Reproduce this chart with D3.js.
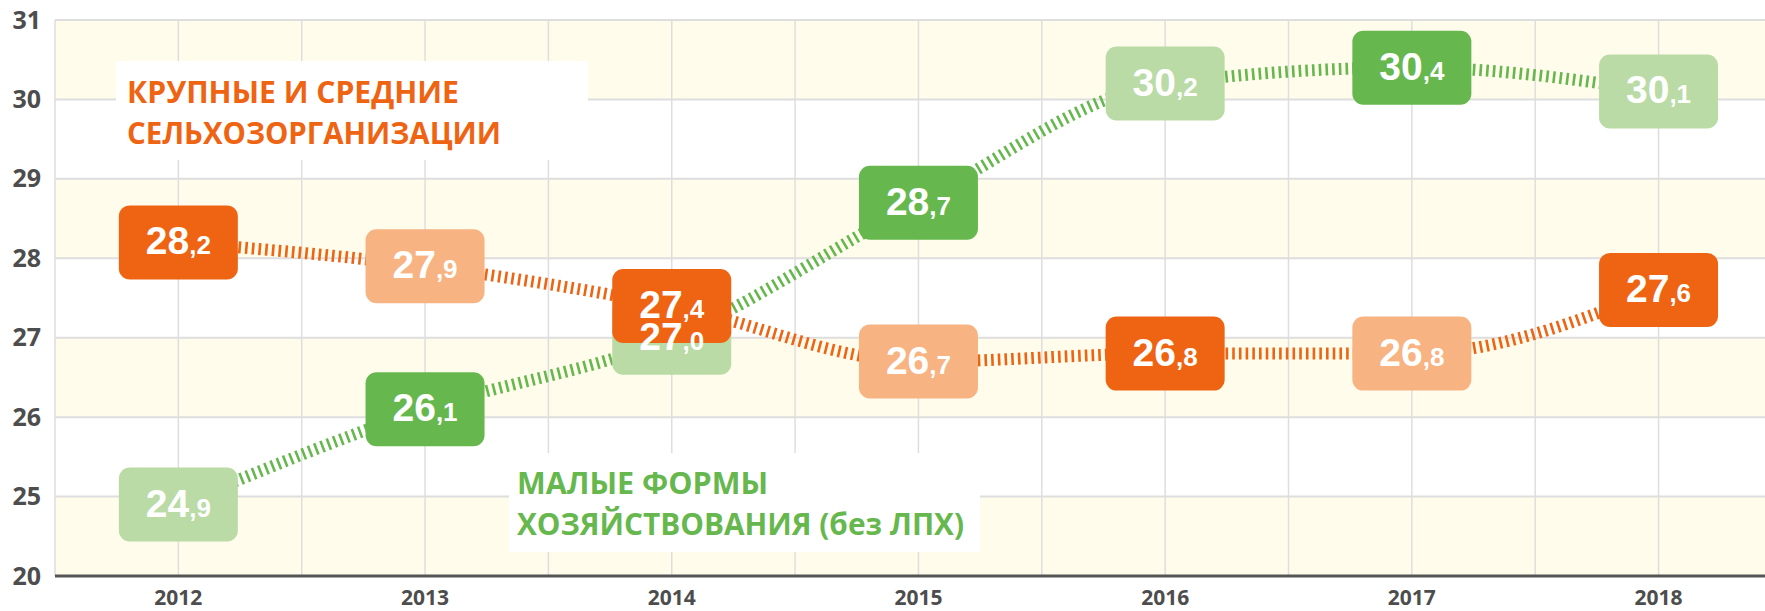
<!DOCTYPE html>
<html>
<head>
<meta charset="utf-8">
<script src="https://cdnjs.cloudflare.com/ajax/libs/d3/7.8.5/d3.min.js"></script>
<style>
  html, body { margin: 0; padding: 0; background: #fff; }
  svg { display: block; }
</style>
</head>
<body>
<svg id="chart" width="1765" height="611"></svg>
<script>
  var years = ['2012', '2013', '2014', '2015', '2016', '2017', '2018'];

  // крупные и средние сельхозорганизации
  var largeOrgs = [28.2, 27.9, 27.4, 26.7, 26.8, 26.8, 27.6];

  // малые формы хозяйствования (без ЛПХ)
  var smallForms = [24.9, 26.1, 27.0, 28.7, 30.2, 30.4, 30.1];

  // axis is broken below 25: the bottom step is labelled 20
  var yTicks = [24, 25, 26, 27, 28, 29, 30, 31];
  var yTickLabels = ['20', '25', '26', '27', '28', '29', '30', '31'];

  var orangeLabel = ['КРУПНЫЕ И СРЕДНИЕ', 'СЕЛЬХОЗОРГАНИЗАЦИИ'];
  var greenLabel = ['МАЛЫЕ ФОРМЫ', 'ХОЗЯЙСТВОВАНИЯ (без ЛПХ)'];

  var colors = {
    orangeDark: '#ee6412',
    orangeLight: '#f8b382',
    greenDark: '#66b84e',
    greenLight: '#badba6',
    band: '#fffcec',
    grid: '#dedede',
    axis: '#555555',
    tick: '#4d4d4d'
  };

  var svg = d3.select('#chart');
  var plotLeft = 55, plotTop = 20, plotBottom = 576, step = 246.7;

  var x = d3.scaleBand().domain(years).range([plotLeft, plotLeft + step * years.length]).padding(0);
  var y = d3.scaleLinear().domain([24, 31]).range([plotBottom, plotTop]);
  var cx = function(d) { return x(d) + x.bandwidth() / 2; };

  // alternating background bands, top band is yellow
  var bands = [];
  for (var i = 0; i < yTicks.length - 1; i++) {
    bands.push({ lo: yTicks[i], hi: yTicks[i + 1], idx: yTicks.length - 2 - i });
  }
  svg.append('g').selectAll('rect').data(bands).enter().append('rect')
    .attr('x', plotLeft).attr('width', 1765 - plotLeft)
    .attr('y', function(d) { return y(d.hi); })
    .attr('height', function(d) { return y(d.lo) - y(d.hi); })
    .attr('fill', function(d) { return d.idx % 2 === 0 ? colors.band : '#ffffff'; });

  // grid: vertical lines at band edges and centres
  var vLines = [];
  years.forEach(function(d) { vLines.push(x(d)); vLines.push(cx(d)); });
  var grid = svg.append('g');
  grid.selectAll('line.v').data(vLines).enter().append('line')
    .attr('class', 'v')
    .attr('x1', function(d) { return d; }).attr('x2', function(d) { return d; })
    .attr('y1', plotTop).attr('y2', plotBottom)
    .attr('stroke', colors.grid).attr('stroke-width', 1.5);
  grid.selectAll('line.h').data(yTicks.slice(1)).enter().append('line')
    .attr('class', 'h')
    .attr('x1', plotLeft).attr('x2', 1765)
    .attr('y1', function(d) { return y(d); }).attr('y2', function(d) { return y(d); })
    .attr('stroke', colors.grid).attr('stroke-width', 2);

  // y axis labels
  var yAxis = svg.append('g').attr('transform', 'translate(' + plotLeft + ',0)')
    .call(d3.axisLeft(y).tickValues(yTicks).tickSize(0).tickPadding(14)
      .tickFormat(function(d, i) { return yTickLabels[i]; }));
  yAxis.select('.domain').remove();
  yAxis.selectAll('text')
    .attr('font-family', '"Open Sans", sans-serif').attr('font-weight', 700)
    .attr('font-size', 25).attr('fill', colors.tick);

  // x axis labels
  var xAxis = svg.append('g').attr('transform', 'translate(0,605)')
    .call(d3.axisBottom(x).tickSize(0).tickPadding(0));
  xAxis.select('.domain').remove();
  xAxis.selectAll('text')
    .attr('y', 0).attr('dy', null)
    .attr('font-family', '"Open Sans", sans-serif').attr('font-weight', 700)
    .attr('font-size', 21).attr('fill', colors.tick);

  // bottom axis line
  svg.append('line')
    .attr('x1', plotLeft).attr('x2', 1765).attr('y1', plotBottom).attr('y2', plotBottom)
    .attr('stroke', colors.axis).attr('stroke-width', 3);

  // series captions on white plates
  var drawCaption = function(lines, color, box, tx, ty, widths) {
    var g = svg.append('g');
    g.append('rect').attr('x', box[0]).attr('y', box[1])
      .attr('width', box[2]).attr('height', box[3]).attr('fill', '#fff');
    g.selectAll('text').data(lines).enter().append('text')
      .attr('x', tx)
      .attr('y', function(d, i) { return ty + i * 41; })
      .attr('textLength', function(d, i) { return widths[i]; })
      .attr('lengthAdjust', 'spacingAndGlyphs')
      .attr('font-family', '"Open Sans", sans-serif').attr('font-weight', 700)
      .attr('font-size', 31).attr('fill', color)
      .text(function(d) { return d; });
  };
  drawCaption(orangeLabel, colors.orangeDark, [116, 61, 472, 99], 127, 103, [332, 374]);
  drawCaption(greenLabel, colors.greenDark, [509, 453, 471, 99], 517, 494, [251, 447]);

  // dashed (hatched) connecting lines
  var line = d3.line()
    .x(function(d) { return cx(d.year); })
    .y(function(d) { return y(d.value); })
    .curve(d3.curveMonotoneX);

  var toPoints = function(values, dark, light, darkFirst) {
    return values.map(function(v, i) {
      return { year: years[i], value: v, fill: (i % 2 === 0) === darkFirst ? dark : light };
    });
  };

  var greenPts = toPoints(smallForms, colors.greenDark, colors.greenLight, false);
  var orangePts = toPoints(largeOrgs, colors.orangeDark, colors.orangeLight, true);

  [[greenPts, colors.greenDark], [orangePts, colors.orangeDark]].forEach(function(s) {
    svg.append('path').datum(s[0])
      .attr('d', line)
      .attr('fill', 'none')
      .attr('stroke', s[1])
      .attr('stroke-width', 12)
      .attr('stroke-dasharray', '2.6,4.1');
  });

  // value plates: all boxes first, then all numbers on top
  var allPts = greenPts.concat(orangePts);
  var pos = function(d) { return 'translate(' + cx(d.year) + ',' + y(d.value) + ')'; };

  svg.append('g').selectAll('rect').data(allPts).enter().append('rect')
    .attr('transform', pos)
    .attr('x', -59.5).attr('y', -37).attr('width', 119).attr('height', 74)
    .attr('rx', 11).attr('ry', 11)
    .attr('fill', function(d) { return d.fill; });

  var t = svg.append('g').selectAll('text').data(allPts).enter().append('text')
    .attr('transform', pos)
    .attr('text-anchor', 'middle').attr('y', 12)
    .attr('font-family', '"Liberation Sans", Arial, sans-serif').attr('font-weight', 700)
    .attr('fill', '#fff');
  t.append('tspan').attr('font-size', 39)
    .text(function(d) { return Math.floor(d.value + 1e-9); });
  t.append('tspan').attr('font-size', 26)
    .text(function(d) { return ',' + d.value.toFixed(1).split('.')[1]; });
</script>
</body>
</html>
